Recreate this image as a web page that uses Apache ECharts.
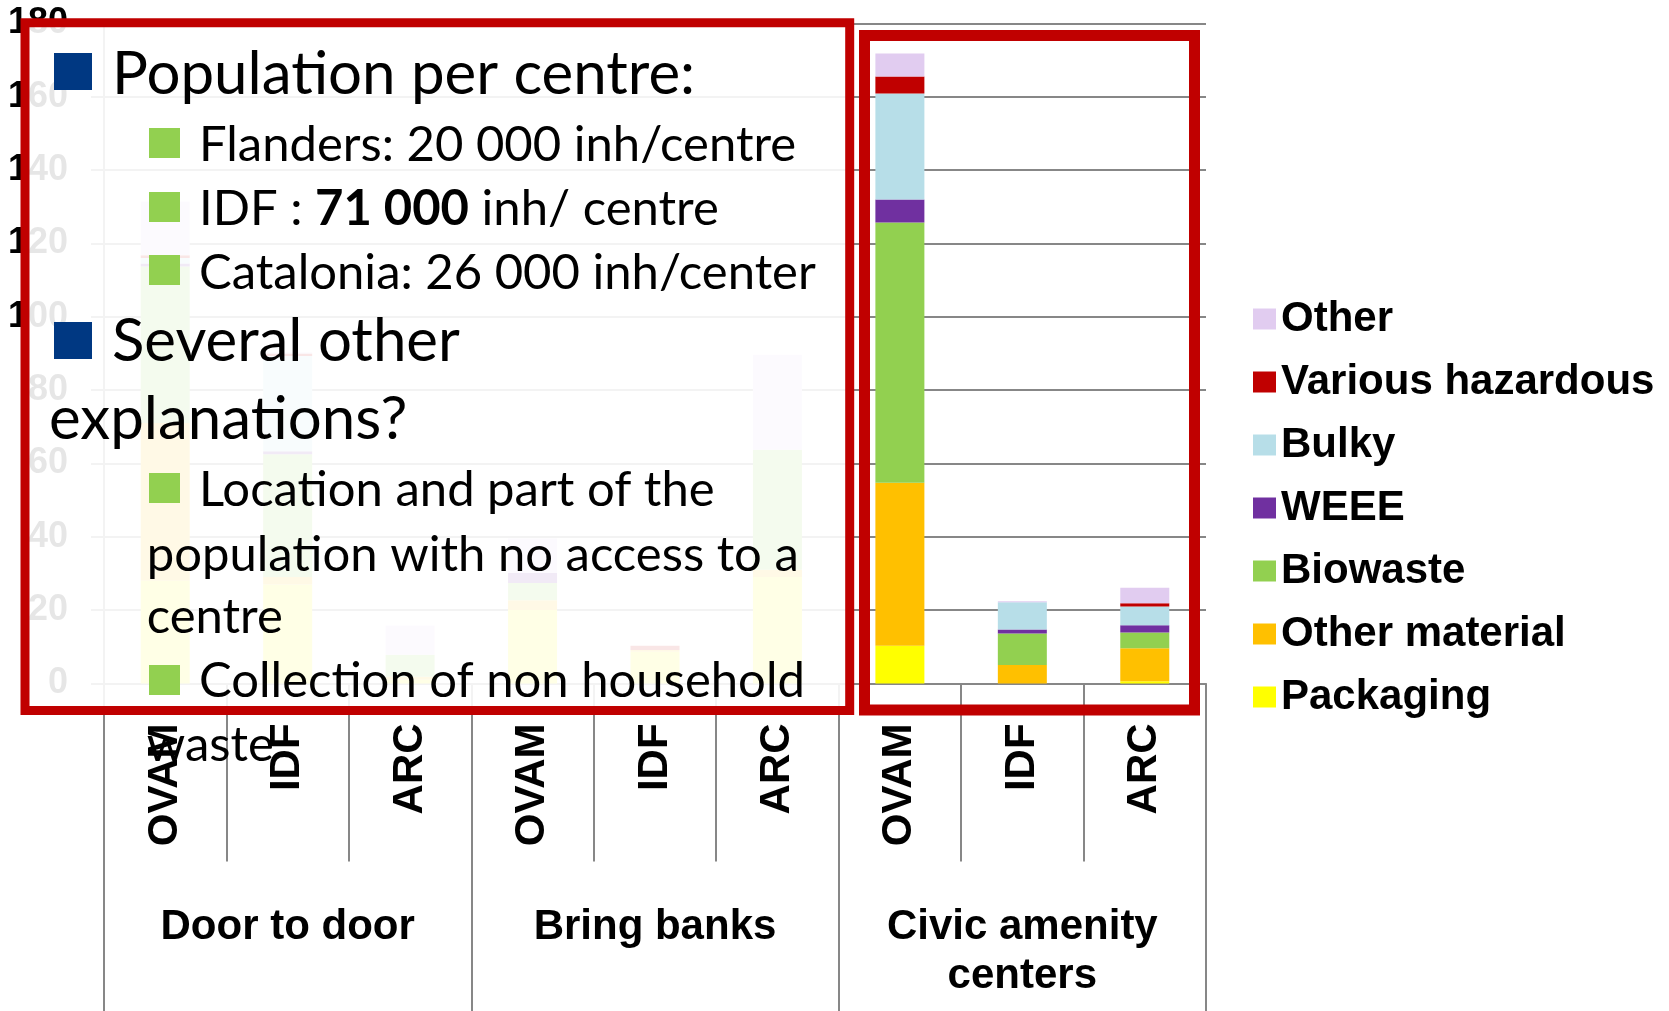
<!DOCTYPE html>
<html>
<head>
<meta charset="utf-8">
<script src="https://cdn.jsdelivr.net/npm/echarts@6/dist/echarts.min.js"></script>
<style>
  html, body { margin: 0; padding: 0; background: #fff; }
  #chart { width: 1669px; height: 1011px; }
</style>
</head>
<body>
<div id="chart"></div>
<script>
// sites (x axis) and collection schemes (group axis)
const categories = ["OVAM", "IDF", "ARC", "OVAM", "IDF", "ARC", "OVAM", "IDF", "ARC"];
const groups = ["Door to door", "Bring banks", "Civic amenity\ncenters"];

// kg/inh per stream, stacked bottom to top
const packaging     = [28, 27, 1.0, 20, 8.6, 29, 10.3, 0, 0.6];
const otherMaterial = [43, 2, 0.8, 2.7, 0.5, 2, 44.4, 5.0, 9.0];
const biowaste      = [42.7, 33.5, 6.0, 4.7, 0, 32.7, 71.0, 8.6, 4.25];
const weee          = [0.8, 0.8, 0, 2.7, 0, 0, 6.3, 1.1, 2.0];
const bulky         = [1.5, 26, 0, 0, 0, 0, 28.9, 7.4, 5.1];
const hazardous     = [0.8, 0.7, 0, 0, 1.2, 0, 4.6, 0, 0.9];
const other         = [14.6, 0.3, 8.0, 9.5, 0, 25.9, 6.3, 0.3, 4.25];

const streamNames = ["Packaging", "Other material", "Biowaste", "WEEE", "Bulky", "Various hazardous", "Other"];
const streamData = [packaging, otherMaterial, biowaste, weee, bulky, hazardous, other];
const streamColors = ["#FFFF00", "#FFC000", "#92D050", "#7030A0", "#B7DEE8", "#C00000", "#E1CCF0"];

const yMax = 180;
const yStep = 20;

const gray = "#878787";
const boldFont = "'Liberation Sans', Arial, sans-serif";
const textFont = "Lato, 'Open Sans', sans-serif";

let myChart = echarts.init(document.getElementById("chart"));

let series = streamNames.map((name, i) => ({
  name: name,
  type: "bar",
  stack: "total",
  barWidth: 49,
  data: streamData[i],
  itemStyle: { color: streamColors[i] }
}));

// slide text box lying over the left part of the chart
const mainSize = 60;
const subSize = 49;
function line(text, x, baseline, size, extra) {
  return Object.assign({
    type: "text",
    z: 102,
    style: {
      text: text,
      x: x,
      y: baseline - size * 0.33,
      fill: "#000",
      fontSize: size,
      fontFamily: textFont,
      verticalAlign: "middle"
    }
  }, extra || {});
}
function square(x, y, s, color) {
  return { type: "rect", z: 102, shape: { x: x, y: y, width: s, height: s - 1 }, style: { fill: color } };
}

const navy = "#003882";
const green = "#92D050";

let graphics = [
  {
    type: "rect", z: 100,
    shape: { x: 25, y: 22.8, width: 824.7, height: 687.8 },
    style: { fill: "rgba(255,255,255,0.9)", stroke: "#C00000", lineWidth: 9 }
  },
  {
    type: "rect", z: 100,
    shape: { x: 864.5, y: 35.5, width: 330, height: 674.5 },
    style: { fill: "none", stroke: "#C00000", lineWidth: 11 }
  },
  square(54, 53, 38, navy),
  line("Population per centre:", 112, 94, mainSize),
  square(149, 128, 31, green),
  line("Flanders: 20 000 inh/centre", 199, 161.6, subSize),
  square(149, 192, 31, green),
  {
    type: "text", z: 102,
    style: {
      text: "{n|IDF : }{b|71 000}{n| inh/ centre}",
      x: 199, y: 225 - subSize * 0.33,
      verticalAlign: "middle",
      rich: {
        n: { fontSize: subSize, fontFamily: textFont, fill: "#000" },
        b: { fontSize: subSize, fontFamily: textFont, fontWeight: "bold", fill: "#000" }
      }
    }
  },
  square(149, 255, 31, green),
  line("Catalonia: 26 000 inh/center", 199, 289, subSize),
  square(54, 322, 38, navy),
  line("Several other", 112, 361, mainSize),
  line("explanations?", 49, 439, mainSize),
  square(149, 473, 31, green),
  line("Location and part of the", 199, 506.7, subSize),
  line("population with no access to a", 146.7, 571, subSize),
  line("centre", 146.7, 633, subSize),
  square(149, 665, 31, green),
  line("Collection of non household", 199, 697, subSize),
  line("waste", 146.7, 761.7, subSize)
];

let option = {
  animation: false,
  backgroundColor: "#fff",
  grid: { left: 104, right: 463, top: 23.4, bottom: 327.6 },
  legend: {
    orient: "vertical",
    left: 1253,
    top: 298,
    padding: 0,
    itemWidth: 23,
    itemHeight: 21,
    itemGap: 21,
    icon: "rect",
    data: streamNames.slice().reverse(),
    textStyle: { fontSize: 42, lineHeight: 42, fontWeight: "bold", color: "#000", fontFamily: boldFont }
  },
  xAxis: [
    {
      type: "category",
      data: categories,
      axisLine: { show: true, lineStyle: { color: gray, width: 2 } },
      axisTick: { show: true, interval: 0, length: 178, lineStyle: { color: gray, width: 2 } },
      axisLabel: {
        interval: 0, rotate: 90, margin: 40,
        color: "#000", fontSize: 42, fontWeight: "bold", fontFamily: boldFont
      }
    },
    {
      type: "category",
      data: groups,
      position: "bottom",
      axisLine: { show: false },
      axisTick: { show: true, interval: 0, length: 328, lineStyle: { color: gray, width: 2 } },
      axisLabel: {
        interval: 0, margin: 220,
        color: "#000", fontSize: 42, lineHeight: 49, fontWeight: "bold", fontFamily: boldFont
      }
    }
  ],
  yAxis: {
    type: "value",
    min: 0,
    max: yMax,
    interval: yStep,
    axisLine: { show: true, lineStyle: { color: gray, width: 2 } },
    axisTick: { show: true, length: 13, lineStyle: { color: gray, width: 2 } },
    splitLine: { lineStyle: { color: gray, width: 2 } },
    axisLabel: { margin: 36, color: "#000", fontSize: 36, fontWeight: "bold", fontFamily: boldFont }
  },
  series: series,
  graphic: graphics
};

myChart.setOption(option);
</script>
</body>
</html>
